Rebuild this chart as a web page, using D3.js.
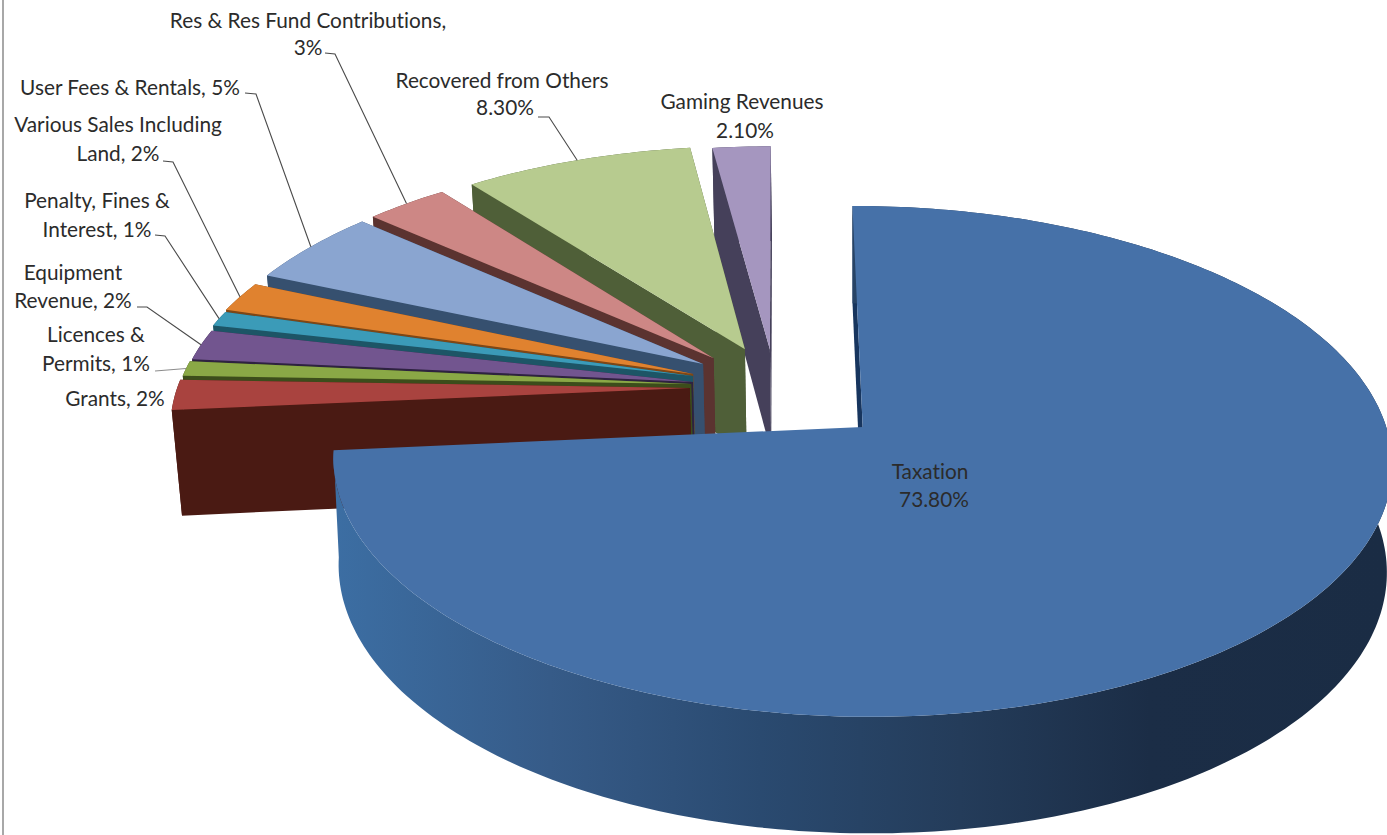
<!DOCTYPE html>
<html>
<head>
<meta charset="utf-8">
<title>Revenue by source</title>
<script src="https://cdn.jsdelivr.net/npm/d3@7"></script>
<style>
html,body{margin:0;padding:0;background:#fff;overflow:hidden}
svg{display:block}
text{font-family:Lato,"Open Sans",sans-serif;font-size:20.8px;fill:#2b2b2b;font-variant-ligatures:none}
</style>
</head>
<body>
<svg id="chart" width="1387" height="835"></svg>
<script>
// Revenue shares, in pie order (clockwise from twelve o'clock)
const categories = ["Taxation","Grants","Licences & Permits","Equipment Revenue","Penalty, Fines & Interest",
  "Various Sales Including Land","User Fees & Rentals","Res & Res Fund Contributions","Recovered from Others","Gaming Revenues"];
const values = [73.8,2,1,2,1,2,5,3,8.3,2.1];
const topColors = ["#4671a8","#a9433f","#8aa846","#72558f","#3b9bb8","#e0822f","#8aa5d0","#cd8785","#b7cb8f","#a596bf"];
const wallColors = ["#17355e","#4a1a13","#3c4d1b","#2e2240","#1d5566","#7e4716","#36506f","#5b3330","#4f5f38","#45405a"];

// How far each slice is pulled out, in units of the pie radius
const explodeU = [0.009,-0.329,-0.327,-0.324,-0.325,-0.325,-0.307,-0.287,-0.226,-0.176];
const explodeV = [0,0.155,0.172,0.1806,0.205,0.2144,0.257,0.282,0.322,0.322];

// Perspective camera for the tilted disc
const cx = 858, cy = 427, Rx = 522, Ry = 249.5, persp = 0.134, tilt = 3.5;
const depth = 106, depthPersp = 0.09;
const startDeg = -1.2;
const radius = i => i === 0 ? 1.005 : 1;
const baseShrink = i => i === 0 ? 0.99 : 0.985;

const project = (u, v) => {
  const d = 1 + persp * v;
  return [cx + Rx * u / d, cy + (tilt * u - Ry * v) / d];
};
const projectBase = (u, v, s) => {
  const [x, y] = project(u, v);
  return [cx + (x - cx) * s, y + depth / (1 + depthPersp * v)];
};

const pie = d3.pie().value(d => d).sort(null)
  .startAngle(startDeg * Math.PI / 180)
  .endAngle(startDeg * Math.PI / 180 + 2 * Math.PI);
const arcs = pie(values);

const svg = d3.select("#chart");
const line = d3.line();
const poly = pts => line(pts) + "Z";

// Frame rule down the left side
svg.append("line").attr("x1", 3).attr("x2", 3).attr("y1", 0).attr("y2", 835)
  .attr("stroke", "#a8a8a8").attr("stroke-width", 2);

// Rim shading on the big slice runs left to right across the wall
const shadeStops = [334, 550, 760, 960, 1150, 1387];
const rimShade = d3.scaleLinear().domain(shadeStops)
  .range(["#3c6ea3", "#365b88", "#2a4a70", "#243c5a", "#1b2d46", "#1a2c44"]);
const grad = svg.append("defs").append("linearGradient").attr("id", "rimGradient")
  .attr("gradientUnits", "userSpaceOnUse")
  .attr("x1", 334).attr("x2", 1387).attr("y1", 0).attr("y2", 0);
shadeStops.forEach(s => grad.append("stop")
  .attr("offset", (s - 334) / (1387 - 334)).attr("stop-color", rimShade(s)));

const rimPoint = (i, a) => [explodeU[i] + radius(i) * Math.sin(a), explodeV[i] + radius(i) * Math.cos(a)];

function sliceRim(arc) {
  const n = Math.max(2, Math.ceil((arc.endAngle - arc.startAngle) / (Math.PI / 180)));
  return d3.range(n + 1).map(k => arc.startAngle + (arc.endAngle - arc.startAngle) * k / n);
}

function drawSlice(i) {
  const arc = arcs[i];
  const g = svg.append("g").attr("class", "slice").attr("data-name", categories[i]);
  const apex = [explodeU[i], explodeV[i]];
  const s = baseShrink(i);
  const angles = sliceRim(arc);
  const wall = (a) => {
    const r = rimPoint(i, a);
    g.append("path")
      .attr("d", poly([project(...apex), project(...r), projectBase(...r, s), projectBase(...apex, s)]))
      .attr("fill", wallColors[i]);
  };
  // Far radial face, then the curved rim, then the near radial face, then the top
  wall(i === 0 ? arc.startAngle : arc.endAngle);
  const rimTop = angles.map(a => project(...rimPoint(i, a)));
  const rimBase = angles.map(a => projectBase(...rimPoint(i, a), s)).reverse();
  g.append("path").attr("d", poly([...rimTop, ...rimBase]))
    .attr("fill", i === 0 ? "url(#rimGradient)" : wallColors[i]);
  if (i !== 0) wall(arc.startAngle);
  g.append("path").attr("d", poly([project(...apex), ...rimTop])).attr("fill", topColors[i]);
}

// Paint from the back of the fan to the front, the big slice last
[9, 8, 7, 6, 5, 4, 3, 2, 1, 0].forEach(drawSlice);

// Data labels with their leader elbows
const labels = [
  {i:7, lines:[["Res & Res Fund Contributions,",308,28],["3%",308,55]], elbow:[[325,53],[335,54]]},
  {i:6, lines:[["User Fees & Rentals, 5%",130,95]], elbow:[[245,93],[256,94]]},
  {i:5, lines:[["Various Sales Including",118,132],["Land, 2%",118,161]], elbow:[[163,161],[173,162]]},
  {i:4, lines:[["Penalty, Fines &",97,208],["Interest, 1%",97,237]], elbow:[[155,235],[165,236]]},
  {i:3, lines:[["Equipment",73,280],["Revenue, 2%",73,308]], elbow:[[137,307],[147,307]]},
  {i:2, lines:[["Licences &",96,342],["Permits, 1%",96,371]], elbow:[[155,371]]},
  {i:1, lines:[["Grants, 2%",115,406]]},
  {i:8, lines:[["Recovered from Others",502,88],["8.30%",505,115]], elbow:[[538,117],[549,117]]},
  {i:9, lines:[["Gaming Revenues",742,109],["2.10%",745,138]]},
  {i:0, lines:[["Taxation",930,479],["73.80%",934,507]]}
];

labels.forEach(l => {
  l.lines.forEach(([t, x, y]) => {
    svg.append("text").attr("x", x).attr("y", y).attr("text-anchor", "middle").text(t);
  });
  if (l.elbow) {
    const arc = arcs[l.i];
    const end = project(...rimPoint(l.i, (arc.startAngle + arc.endAngle) / 2));
    svg.append("path").attr("d", line([...l.elbow, end])).attr("fill", "none")
      .attr("stroke", l.i === 2 ? "#8c8c8c" : "#4a4a4a").attr("stroke-width", 1.1);
  }
});
</script>
</body>
</html>
